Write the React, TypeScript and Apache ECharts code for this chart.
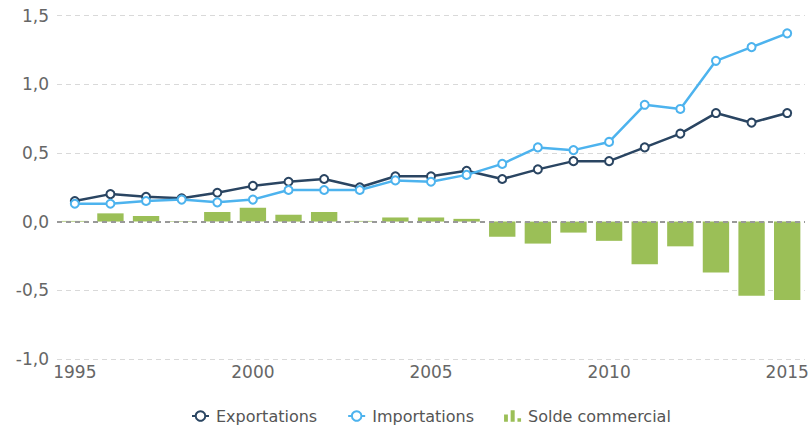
import React, { useEffect, useRef } from "react";
import * as echarts from "echarts";

const years = ["1995","1996","1997","1998","1999","2000","2001","2002","2003","2004","2005","2006","2007","2008","2009","2010","2011","2012","2013","2014","2015"];
const exportations = [0.15,0.20,0.18,0.17,0.21,0.26,0.29,0.31,0.25,0.33,0.33,0.37,0.31,0.38,0.44,0.44,0.54,0.64,0.79,0.72,0.79];
const importations = [0.13,0.13,0.15,0.16,0.14,0.16,0.23,0.23,0.23,0.30,0.29,0.34,0.42,0.54,0.52,0.58,0.85,0.82,1.17,1.27,1.37];
const solde = [0.005,0.06,0.04,0.005,0.07,0.10,0.05,0.07,0.005,0.03,0.03,0.02,-0.11,-0.16,-0.08,-0.14,-0.31,-0.18,-0.37,-0.54,-0.57];

const FONT = "DejaVu Sans";
const barIcon = "path://M0,4L3.6,4L3.6,11L0,11Z M6.2,0L10,0L10,11L6.2,11Z M12.6,7.5L16,7.5L16,11L12.6,11Z";

export default function App() {
  const ref = useRef<HTMLDivElement>(null);
  useEffect(() => {
    const chart = echarts.init(ref.current!, undefined, { renderer: "svg" });
    chart.setOption({
      animation: false,
      textStyle: { fontFamily: FONT },
      grid: { left: 57, right: 7, top: 15.5, bottom: 70, containLabel: false },
      legend: {
        top: 403,
        left: 186,
        itemGap: 30,
        itemWidth: 17,
        itemHeight: 12,
        textStyle: { fontFamily: FONT, fontSize: 16, color: "#555", padding: [0, 0, 0, 2] },
        data: [
          { name: "Exportations" },
          { name: "Importations" },
          { name: "Solde commercial", icon: barIcon, itemStyle: { color: "#9bbf57" } },
        ],
      },
      xAxis: {
        type: "category",
        data: years,
        boundaryGap: true,
        axisLine: { show: false },
        axisTick: { show: false },
        axisLabel: {
          interval: 4,
          fontSize: 17,
          color: "#666",
          fontFamily: FONT,
          margin: 4,
        },
        splitLine: { show: false },
      },
      yAxis: {
        type: "value",
        min: -1,
        max: 1.5,
        interval: 0.5,
        axisLine: { show: false },
        axisTick: { show: false },
        axisLabel: {
          fontSize: 17,
          color: "#666",
          fontFamily: FONT,
          margin: 8,
          formatter: (v: number) => v.toFixed(1).replace(".", ","),
        },
        splitLine: { lineStyle: { color: "#d9d9d9", type: [5, 4], width: 1 } },
      },
      series: [
        {
          name: "Solde commercial",
          type: "bar",
          data: solde,
          barCategoryGap: "26%",
          itemStyle: { color: "#9bbf57" },
          z: 1,
          markLine: {
            silent: true,
            symbol: "none",
            label: { show: false },
            lineStyle: { color: "#999", type: [5, 4], width: 2 },
            data: [{ yAxis: 0 }],
            z: 3,
          },
        },
        {
          name: "Exportations",
          type: "line",
          data: exportations,
          symbol: "circle",
          symbolSize: 8,
          lineStyle: { color: "#2a4562", width: 2.5 },
          itemStyle: { color: "#fff", borderColor: "#2a4562", borderWidth: 2 },
          z: 4,
        },
        {
          name: "Importations",
          type: "line",
          data: importations,
          symbol: "circle",
          symbolSize: 8,
          lineStyle: { color: "#4db3ee", width: 2.5 },
          itemStyle: { color: "#fff", borderColor: "#4db3ee", borderWidth: 2 },
          z: 5,
        },
      ],
    });
    return () => chart.dispose();
  }, []);
  return <div ref={ref} style={{ width: 812, height: 429, position: "absolute", left: 0, top: 0 }} />;
}
